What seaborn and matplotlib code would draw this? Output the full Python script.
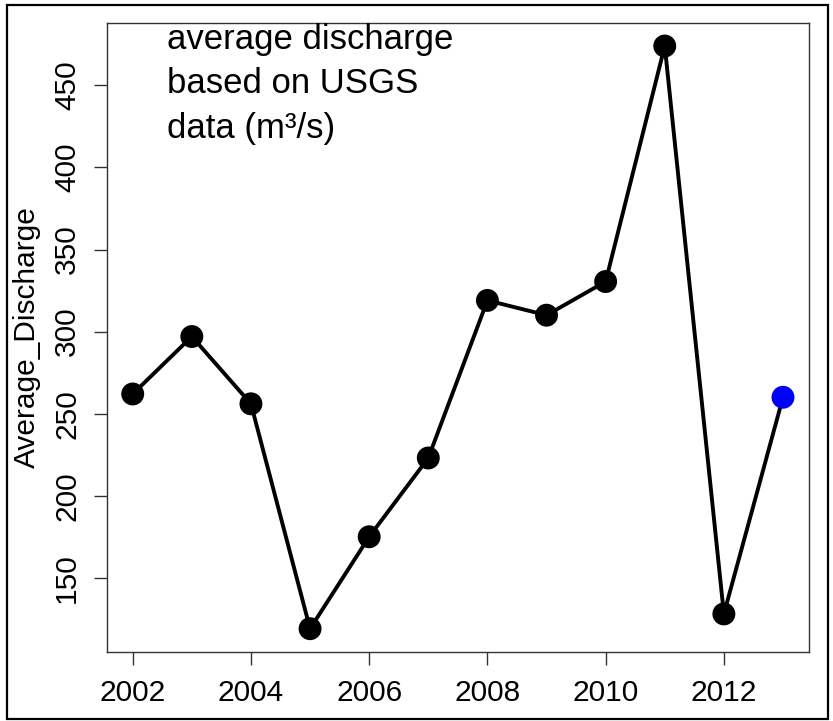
import matplotlib
matplotlib.use("Agg")
import matplotlib.pyplot as plt
import seaborn as sns
import pandas as pd
from matplotlib.patches import Rectangle

years = [2002, 2003, 2004, 2005, 2006, 2007, 2008, 2009, 2010, 2011, 2012, 2013]
discharge = [262, 297, 256, 119, 175, 223, 319, 310, 330.5, 474, 128, 260]
point_kind = ["obs"] * 11 + ["new"]
annotation_lines = ["average discharge", "based on USGS", "data (m\u00b3/s)"]
y_label = "Average_Discharge"
x_ticks = [2002, 2004, 2006, 2008, 2010, 2012]
y_ticks = [150, 200, 250, 300, 350, 400, 450]

df = pd.DataFrame({"Year": years, "Average_Discharge": discharge, "kind": point_kind})

sns.set_style("white")
plt.rcParams["font.family"] = ["Liberation Sans", "DejaVu Sans"]
plt.rcParams["text.color"] = "black"
plt.rcParams["axes.labelcolor"] = "black"
plt.rcParams["xtick.color"] = "black"
plt.rcParams["ytick.color"] = "black"

W, H = 833, 721
fig = plt.figure(figsize=(W / 100, H / 100), dpi=100)
ax_left, ax_right, ax_top, ax_bottom = 106.7, 809, 22.7, 652
ax = fig.add_axes([ax_left / W, (H - ax_bottom) / H, (ax_right - ax_left) / W, (ax_bottom - ax_top) / H])

sns.lineplot(data=df, x="Year", y="Average_Discharge", color="black", linewidth=2.8, ax=ax, zorder=2)
sns.scatterplot(data=df, x="Year", y="Average_Discharge", hue="kind",
                palette={"obs": "black", "new": "#0000FF"}, s=16.5 ** 2,
                edgecolor="none", legend=False, ax=ax, zorder=3)

xr = max(years) - min(years)
ax.set_xlim(min(years) - 0.04 * xr, max(years) + 0.04 * xr)
yr = max(discharge) - min(discharge)
ax.set_ylim(min(discharge) - 0.04 * yr, max(discharge) + 0.04 * yr)

ax.set_xticks(x_ticks)
ax.set_xticklabels([str(t) for t in x_ticks])
ax.set_yticks(y_ticks)
ax.set_yticklabels([str(t) for t in y_ticks], rotation=90, va="center")
ax.tick_params(axis="both", direction="out", length=9.4, width=1, color="#333333",
               labelcolor="black", labelsize=21.5, bottom=True, left=True)
ax.tick_params(axis="x", pad=10)
ax.tick_params(axis="y", pad=9)
ax.set_xlabel("")
ax.set_ylabel(y_label, fontsize=21.5, labelpad=9, color="black")

for sp in ax.spines.values():
    sp.set_visible(True)
    sp.set_color("#333333")
    sp.set_linewidth(1.0)

baselines = [0.958, 0.888, 0.817]
for line, yb in zip(annotation_lines, baselines):
    ax.text(0.0859, yb, line, transform=ax.transAxes, fontsize=25, va="baseline", ha="left",
            color="black")

frame = Rectangle((7 / W, 2 / H), (828 - 7) / W, (716 - 2) / H, transform=fig.transFigure,
                  fill=False, edgecolor="black", linewidth=1.6)
fig.patches.append(frame)

fig.savefig("out.png", dpi=100)
